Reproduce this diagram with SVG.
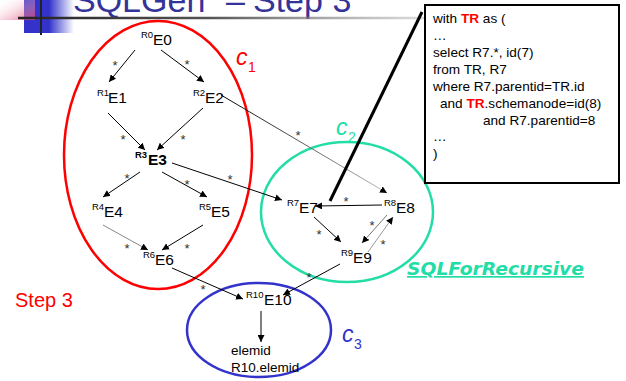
<svg xmlns="http://www.w3.org/2000/svg" width="626" height="381" viewBox="0 0 626 381">
<defs>
<linearGradient id="pink" x1="1" y1="1" x2="0" y2="0"><stop offset="0" stop-color="#e04070"/><stop offset="1" stop-color="#fff" stop-opacity="0"/></linearGradient>
<linearGradient id="blue" x1="0" y1="0" x2="1" y2="0"><stop offset="0" stop-color="#3333cc"/><stop offset="0.5" stop-color="#3333cc"/><stop offset="1" stop-color="#3333cc" stop-opacity="0"/></linearGradient>
<linearGradient id="hline" gradientUnits="userSpaceOnUse" x1="18" y1="0" x2="570" y2="0"><stop offset="0" stop-color="#222"/><stop offset="0.35" stop-color="#555"/><stop offset="1" stop-color="#ddd" stop-opacity="0"/></linearGradient>
<linearGradient id="fade28" gradientUnits="userSpaceOnUse" x1="220" y1="95" x2="387" y2="193"><stop offset="0" stop-color="#000"/><stop offset="1" stop-color="#bbb"/></linearGradient>
<marker id="ah" viewBox="0 0 10 10" refX="10" refY="5" markerWidth="7" markerHeight="7" markerUnits="userSpaceOnUse" orient="auto"><path d="M0,0 L10,5 L0,10 z" fill="#000"/></marker>
<style>
.n{font-family:"Liberation Sans",Arial,sans-serif;font-size:15.5px;fill:#000}
.s{font-family:"Liberation Sans",Arial,sans-serif;font-size:9.5px;fill:#000}
.b{font-weight:bold}
.st{font-family:"Liberation Sans",Arial,sans-serif;font-size:13px;fill:#333;text-anchor:middle}
.e{fill:none;stroke:#000;stroke-width:1;marker-end:url(#ah)}
.code{font-family:"Liberation Sans",Arial,sans-serif;font-size:13.6px;fill:#000}
.tr{fill:#ff0000;font-weight:bold}
.cl{font-family:"Liberation Sans",Arial,sans-serif;font-style:italic;font-size:23px}
.cs{font-family:"Liberation Sans",Arial,sans-serif;font-size:14px}
</style>
</defs>
<rect width="626" height="381" fill="#fff"/>
<g id="header">
<rect x="24" y="0" width="50" height="33" fill="url(#blue)"/>
<rect x="0" y="0" width="35" height="20" fill="url(#pink)" opacity="0.8"/>
<text x="73" y="12" font-family="Liberation Sans,Arial,sans-serif" font-size="34" fill="#333399">SQLGen <tspan x="226">–</tspan><tspan x="253">Step 3</tspan></text>
<line x1="18" y1="18" x2="570" y2="18" stroke="url(#hline)" stroke-width="2.5"/>
<line x1="41" y1="0" x2="41" y2="35" stroke="#222" stroke-width="2"/>
</g>
<g id="clusters">
<ellipse cx="158" cy="155" rx="94" ry="134" fill="none" stroke="#ff0000" stroke-width="2.5"/>
<ellipse cx="347" cy="212" rx="86" ry="70" fill="none" stroke="#22dda6" stroke-width="2.5"/>
<ellipse cx="259" cy="330" rx="72" ry="47" fill="none" stroke="#3333cc" stroke-width="2.5"/>
<text class="cl" x="236" y="65" fill="#ff0000">c</text><text class="cs" x="248" y="72" fill="#ff0000">1</text>
<text class="cl" x="336" y="135" fill="#22dda6">c</text><text class="cs" x="348" y="142" fill="#22dda6">2</text>
<text class="cl" x="342" y="342" fill="#3333cc">c</text><text class="cs" x="354" y="349" fill="#3333cc">3</text>
</g>
<g id="connectors">
<line class="e" x1="135" y1="50" x2="109" y2="82"/>
<line class="e" x1="161" y1="50" x2="204" y2="82"/>
<line class="e" x1="108" y1="113" x2="145" y2="150"/>
<line class="e" x1="203" y1="108" x2="157" y2="150"/>
<line class="e" x1="221" y1="95" x2="387" y2="193" style="stroke:url(#fade28)"/>
<line class="e" x1="172" y1="163" x2="282" y2="200"/>
<line class="e" x1="140" y1="172" x2="103" y2="197"/>
<line class="e" x1="162" y1="172" x2="207" y2="197"/>
<line class="e" x1="103" y1="225" x2="148" y2="250" style="stroke:#888"/>
<line class="e" x1="203" y1="225" x2="162" y2="250"/>
<line class="e" x1="172" y1="268" x2="243" y2="299"/>
<line class="e" x1="382" y1="205" x2="315" y2="206"/>
<line class="e" x1="314" y1="217" x2="341" y2="242"/>
<line class="e" x1="387" y1="215" x2="362" y2="243" style="stroke:#777"/>
<line class="e" x1="368" y1="252" x2="393" y2="217" style="stroke:#999"/>
<line class="e" x1="340" y1="264" x2="283" y2="295"/>
<line class="e" x1="261" y1="311" x2="261" y2="342"/>
<text class="st" x="115" y="70">*</text>
<text class="st" x="187" y="69">*</text>
<text class="st" x="123" y="144">*</text>
<text class="st" x="183" y="144">*</text>
<text class="st" x="298" y="140">*</text>
<text class="st" x="230" y="184">*</text>
<text class="st" x="127" y="183">*</text>
<text class="st" x="187" y="189">*</text>
<text class="st" x="127" y="253">*</text>
<text class="st" x="187" y="253">*</text>
<text class="st" x="203" y="294">*</text>
<text class="st" x="346" y="206">*</text>
<text class="st" x="319" y="239">*</text>
<text class="st" x="372" y="230">*</text>
<text class="st" x="383" y="249">*</text>
<text class="st" x="309" y="282">*</text>
</g>
<g id="E0"><text class="s" x="141" y="38">R0</text><text class="n" x="153" y="45">E0</text></g>
<g id="E1"><text class="s" x="97" y="96">R1</text><text class="n" x="108" y="103">E1</text></g>
<g id="E2"><text class="s" x="193" y="96">R2</text><text class="n" x="205" y="103">E2</text></g>
<g id="E3"><text class="s b" x="135" y="158">R3</text><text class="n b" x="148" y="165">E3</text></g>
<g id="E4"><text class="s" x="92" y="210">R4</text><text class="n" x="104" y="217">E4</text></g>
<g id="E5"><text class="s" x="199" y="210">R5</text><text class="n" x="211" y="217">E5</text></g>
<g id="E6"><text class="s" x="143" y="258">R6</text><text class="n" x="155" y="265">E6</text></g>
<g id="E7"><text class="s" x="287" y="206">R7</text><text class="n" x="299" y="213">E7</text></g>
<g id="E8"><text class="s" x="384" y="206">R8</text><text class="n" x="396" y="213">E8</text></g>
<g id="E9"><text class="s" x="341" y="256">R9</text><text class="n" x="353" y="263">E9</text></g>
<g id="E10"><text class="s" x="246" y="298">R10</text><text class="n" x="264" y="305">E10</text></g>
<g id="elemid"><text class="n" x="231" y="355" style="font-size:13.5px">elemid</text><text class="n" x="231" y="372" style="font-size:13.5px">R10.elemid</text></g>
<g id="labels">
<text x="407" y="275" font-family="DejaVu Sans,Verdana,sans-serif" font-size="17" font-weight="bold" font-style="italic" fill="#22dda6" text-decoration="underline" textLength="177" lengthAdjust="spacingAndGlyphs">SQLForRecursive</text>
<text x="15" y="307" font-family="Liberation Sans,Arial,sans-serif" font-size="20" fill="#ff0000">Step 3</text>
</g>
<g id="codebox">
<line x1="330" y1="201" x2="422" y2="12" stroke="#000" stroke-width="3"/>
<rect x="425" y="5" width="194" height="178" fill="#fff" stroke="#000" stroke-width="2"/>
<text class="code" x="433" y="23">with <tspan class="tr">TR</tspan> as (</text>
<text class="code" x="433" y="40">…</text>
<text class="code" x="433" y="57">select R7.*, id(7)</text>
<text class="code" x="433" y="74">from TR, R7</text>
<text class="code" x="433" y="91">where R7.parentid=TR.id</text>
<text class="code" x="440" y="108">and <tspan class="tr">TR</tspan>.schemanode=id(8)</text>
<text class="code" x="483" y="125">and R7.parentid=8</text>
<text class="code" x="433" y="141">…</text>
<text class="code" x="433" y="158">)</text>
</g>
</svg>
